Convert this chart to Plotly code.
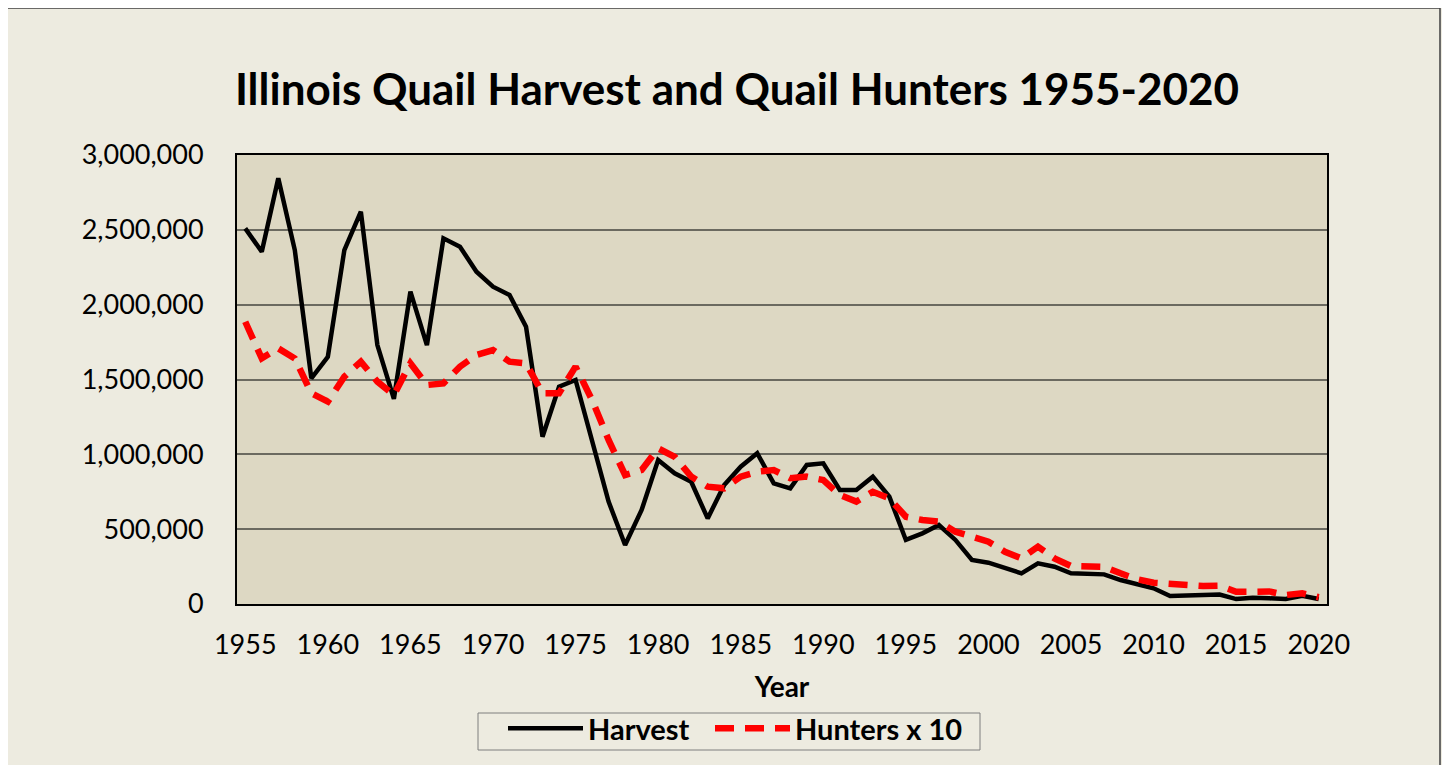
import plotly.graph_objects as go

years = list(range(1955, 2021))

harvest = [
    2510000, 2354000, 2844000, 2365000, 1508000, 1652000, 2365000, 2621000, 1730000, 1370000,
    2087000, 1730000, 2443000, 2387000, 2220000, 2120000, 2065000, 1853000, 1118000, 1452000,
    1497000, 1096000, 684000, 394000, 628000, 962000, 873000, 817000, 572000, 795000,
    917000, 1007000, 806000, 773000, 929000, 940000, 762000, 762000, 851000, 717000,
    428000, 472000, 528000, 428000, 294000, 276000, 238000, 205000, 272000, 249000,
    205000, 198000, 198000, 160000, 134000, 105000, 53000, 55000, 60000, 63000,
    33000, 42000, 38000, 33000, 55000, 33000,
]

hunters_x10 = [
    1886000, 1641000, 1708000, 1641000, 1408000, 1352000, 1519000, 1619000, 1486000, 1396000,
    1608000, 1463000, 1474000, 1586000, 1664000, 1697000, 1619000, 1608000, 1408000, 1408000,
    1586000, 1363000, 1096000, 862000, 895000, 1040000, 984000, 851000, 784000, 773000,
    851000, 884000, 895000, 840000, 851000, 828000, 728000, 684000, 750000, 706000,
    583000, 561000, 550000, 483000, 450000, 416000, 349000, 305000, 383000, 305000,
    254000, 249000, 249000, 205000, 165000, 142000, 131000, 122000, 120000, 122000,
    82000, 82000, 84000, 60000, 71000, 45000,
]

x_ticks = list(range(1955, 2021, 5))

FONT = "Lato"
OUTER_BG = "#EDEBE0"
PLOT_BG = "#DDD8C3"

W, H = 1450, 765
OFF = 8  # page body margin offset
# desired plot area in page pixels
PL, PR, PT, PB = 237, 1327, 155, 604
ml, mr = PL - OFF, W - (PR - OFF)
mt, mb = PT - OFF, H - (PB - OFF)
pw, ph = PR - PL, PB - PT

fig = go.Figure()
fig.add_trace(go.Scatter(
    x=years, y=harvest, name="Harvest", mode="lines",
    line=dict(color="black", width=4.5), legend="legend",
))
fig.add_trace(go.Scatter(
    x=years, y=hunters_x10, name="Hunters x 10", mode="lines",
    line=dict(color="#FF0000", width=6.5, dash="19px,11px"), legend="legend2",
))

leg_common = dict(
    orientation="h", xref="container", yref="container", xanchor="left",
    y=1 - (703 - OFF) / H, yanchor="top",
    bgcolor="rgba(0,0,0,0)", borderwidth=0,
    font=dict(family=FONT, size=29, color="black", weight="bold"),
    itemwidth=75,
)

fig.update_layout(
    width=W, height=H,
    paper_bgcolor=OUTER_BG, plot_bgcolor=PLOT_BG,
    margin=dict(l=ml, r=mr, t=mt, b=mb, autoexpand=False),
    title=dict(
        text="<b>Illinois Quail Harvest and Quail Hunters 1955-2020</b>",
        font=dict(family=FONT, size=44, color="black"),
        x=(737 - OFF) / W, xanchor="center", xref="container",
        y=1 - (90 - OFF) / H, yanchor="middle", yref="container",
    ),
    font=dict(family=FONT, color="black"),
    showlegend=True,
    legend=dict(leg_common, x=(503 - OFF) / W),
    legend2=dict(leg_common, x=(710 - OFF) / W),
    xaxis=dict(
        range=[1954.5, 2020.5], tickvals=x_ticks, ticktext=[str(v) for v in x_ticks],
        showgrid=False, zeroline=False, automargin=False,
        showline=True, linecolor="black", linewidth=2, mirror=True,
        tickfont=dict(family=FONT, size=27, color="black"),
        ticks="", ticklabelstandoff=16,
        title=dict(text="<b>Year</b>", font=dict(family=FONT, size=28, color="black"), standoff=18),
    ),
    yaxis=dict(
        range=[0, 3000000], dtick=500000, tickformat=",",
        showgrid=True, gridcolor="#6B6A60", gridwidth=1.5, zeroline=False, automargin=False,
        showline=True, linecolor="black", linewidth=2, mirror=True,
        tickfont=dict(family=FONT, size=27, color="black"),
        ticks="", ticklabelstandoff=26,
    ),
    shapes=[
        dict(
            type="rect", xref="paper", yref="paper",
            x0=(7 - PL) / pw, x1=(1440 - PL) / pw,
            y0=(PB - 775) / ph, y1=(PB - 8) / ph,
            line=dict(color="#3F3F3F", width=1.5), fillcolor="rgba(0,0,0,0)", layer="below",
        ),
        dict(
            type="rect", xref="paper", yref="paper",
            x0=(478 - PL) / pw, x1=(980 - PL) / pw,
            y0=(PB - 750) / ph, y1=(PB - 713) / ph,
            line=dict(color="#7F7F7F", width=1), fillcolor="rgba(0,0,0,0)", layer="below",
        ),
    ],
)

fig.write_html("out.html")
